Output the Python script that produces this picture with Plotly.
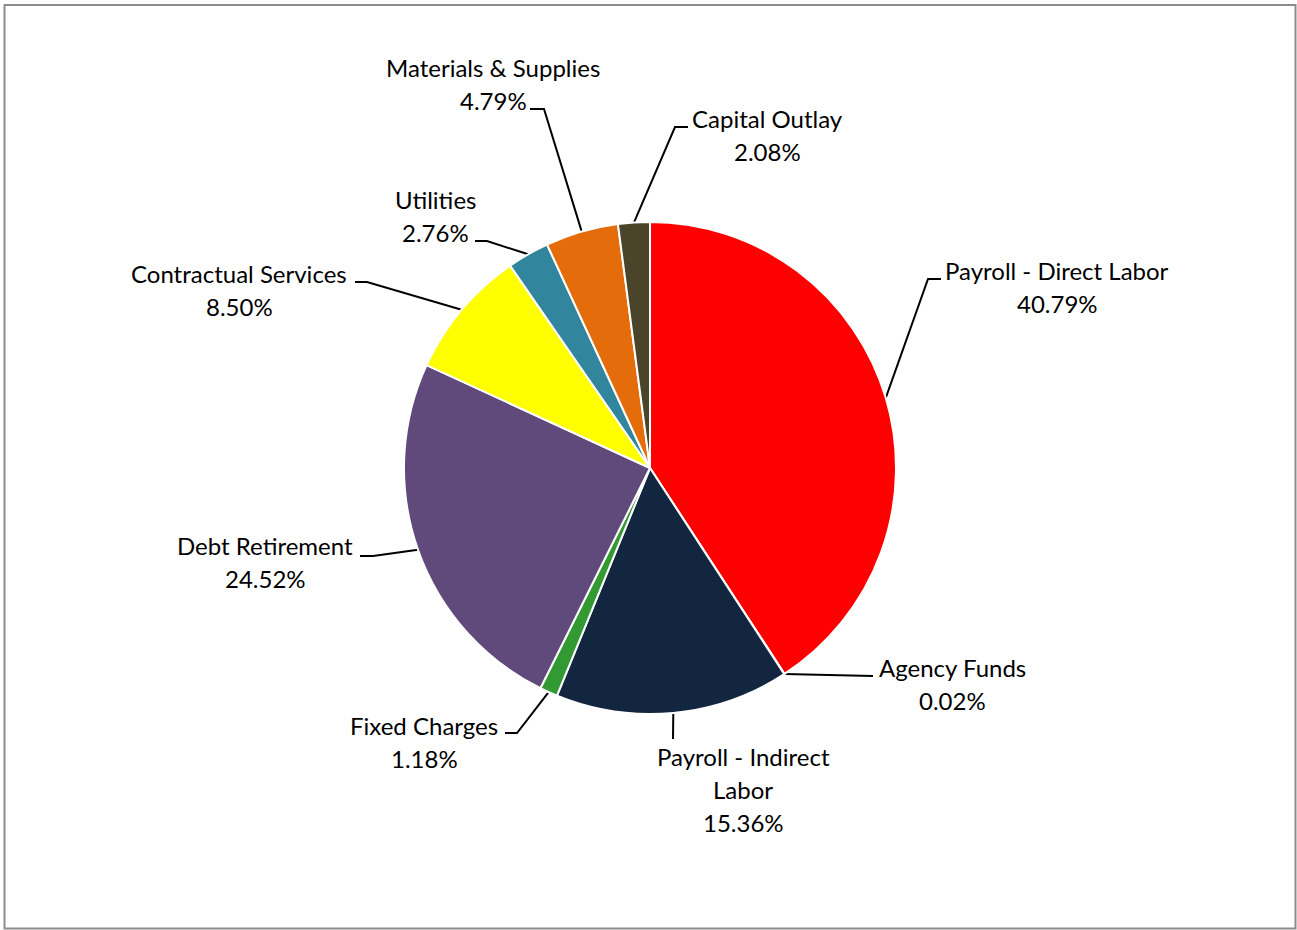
import math
import plotly.graph_objects as go

# Budget share by expenditure category (percent of total)
categories = [
    "Payroll - Direct Labor",
    "Agency Funds",
    "Payroll - Indirect Labor",
    "Fixed Charges",
    "Debt Retirement",
    "Contractual Services",
    "Utilities",
    "Materials & Supplies",
    "Capital Outlay",
]
shares = [40.79, 0.02, 15.36, 1.18, 24.52, 8.50, 2.76, 4.79, 2.08]

slice_colors = [
    "#FF0000", "#C0504D", "#12263F", "#339933", "#604A7B",
    "#FFFF00", "#31859C", "#E46C0A", "#4A452A",
]

# Label text lines (category name may wrap)
label_lines = [
    ["Payroll - Direct Labor"],
    ["Agency Funds"],
    ["Payroll - Indirect", "Labor"],
    ["Fixed Charges"],
    ["Debt Retirement"],
    ["Contractual Services"],
    ["Utilities"],
    ["Materials & Supplies"],
    ["Capital Outlay"],
]

# Label placement (pixel space): text center x, first-line center y,
# and the elbow where the leader line turns horizontal (start, end of tail)
label_pos = [
    (1057, 270), (952, 667), (743, 756), (424, 725), (265, 545),
    (239, 273), (435, 199), (493, 67), (767, 118),
]
leader_tail = [
    ((928, 279), (941, 279)),
    ((873, 676), (873, 676)),
    ((673, 739), (673, 739)),
    ((517, 733), (505, 733)),
    ((373, 556), (360, 556)),
    ((367, 282), (355, 282)),
    ((487, 241), (475, 241)),
    ((544, 109), (530, 109)),
    ((675, 127), (688, 127)),
]

W, H = 1297, 930
CX, CY, R = 650, 468, 246
LINE_GAP = 33
FONT = dict(family="Lato, Carlito, Calibri, sans-serif", size=24, color="#000000")

fig = go.Figure()

fig.add_trace(go.Pie(
    labels=categories,
    values=shares,
    sort=False,
    direction="clockwise",
    rotation=0,
    marker=dict(colors=slice_colors, line=dict(color="#FFFFFF", width=2)),
    textinfo="none",
    hoverinfo="label+percent",
    showlegend=False,
    domain=dict(
        x=[(CX - R) / W, (CX + R) / W],
        y=[(H - CY - R) / H, (H - CY + R) / H],
    ),
))

# Leader lines: from each slice's mid-angle on the rim to its label
total = sum(shares)
cum = 0.0
annotations = []
for i, v in enumerate(shares):
    mid = (cum + v / 2) / total * 2 * math.pi
    cum += v
    ax = CX + R * math.sin(mid)
    ay = CY - R * math.cos(mid)
    (ex, ey), (tx, ty) = leader_tail[i]
    fig.add_trace(go.Scatter(
        x=[ax, ex, tx], y=[ay, ey, ty],
        mode="lines",
        line=dict(color="#000000", width=2),
        hoverinfo="skip",
        showlegend=False,
    ))
    lx, ly = label_pos[i]
    lines = label_lines[i] + [f"{v:.2f}%"]
    for k, t in enumerate(lines):
        annotations.append(dict(
            x=lx, y=ly + k * LINE_GAP, xref="x", yref="y",
            text=t, showarrow=False, font=FONT,
            xanchor="center", yanchor="middle",
        ))

fig.update_layout(
    width=W, height=H,
    margin=dict(l=0, r=0, t=0, b=0),
    paper_bgcolor="#FFFFFF",
    plot_bgcolor="rgba(0,0,0,0)",
    xaxis=dict(range=[0, W], visible=False, fixedrange=True),
    yaxis=dict(range=[H, 0], visible=False, fixedrange=True),
    annotations=annotations,
    shapes=[dict(
        type="rect", xref="x", yref="y",
        x0=4.5, y0=5, x1=1295.5, y1=928.5,
        line=dict(color="#8C8C8C", width=2),
        fillcolor="rgba(0,0,0,0)", layer="above",
    )],
)

fig.write_html("out.html")
